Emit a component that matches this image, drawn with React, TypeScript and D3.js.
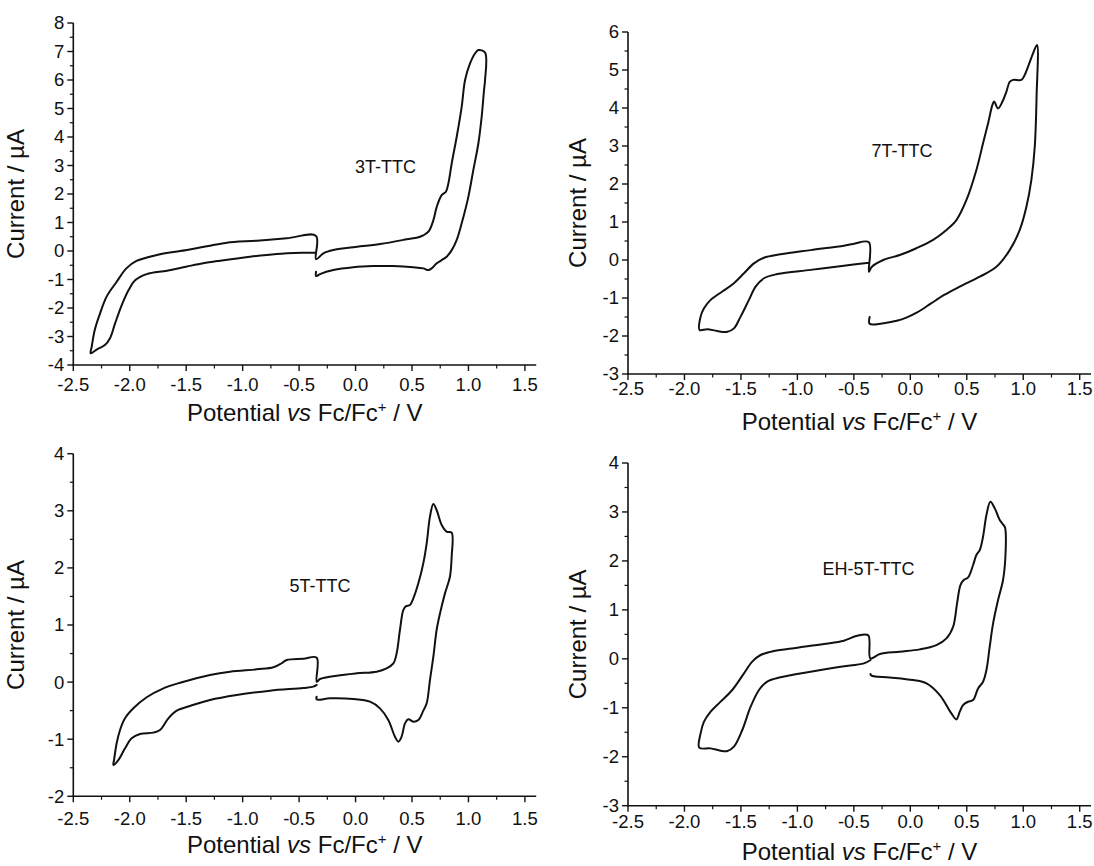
import React from "react";
import * as d3 from "d3";

// ---------- DATA (potential E in V vs Fc/Fc+, current I in µA) ----------
const xTicks = [-2.5, -2.0, -1.5, -1.0, -0.5, 0.0, 0.5, 1.0, 1.5];
const xDomain: [number, number] = [-2.5, 1.6];

const compoundLabels = ["3T-TTC", "7T-TTC", "5T-TTC", "EH-5T-TTC"];
const yDomains: [number, number][] = [[-4, 8], [-3, 6], [-2, 4], [-3, 4]];

const cv3T: [number, number][] = [
  [-0.35, -0.05], [-0.46, -0.06], [-0.7, -0.105], [-0.935, -0.2], [-1.2, -0.34], [-1.35, -0.43],
  [-1.5, -0.55], [-1.67, -0.69], [-1.85, -0.81], [-1.95, -1.02], [-2.01, -1.37], [-2.07, -1.89],
  [-2.13, -2.54], [-2.175, -3.06], [-2.22, -3.3], [-2.29, -3.45], [-2.346, -3.59],
  [-2.337, -3.36], [-2.31, -2.77], [-2.263, -2.19], [-2.205, -1.6], [-2.116, -1.08], [-2.03, -0.61],
  [-1.94, -0.35], [-1.76, -0.14], [-1.554, 0.0], [-1.41, 0.093], [-1.26, 0.21], [-1.14, 0.29],
  [-0.876, 0.363], [-0.61, 0.445], [-0.35, 0.53],
  [-0.35, -0.29],
  [-0.285, -0.08], [-0.197, 0.035], [-0.02, 0.13], [0.217, 0.245], [0.453, 0.41], [0.571, 0.5],
  [0.645, 0.68], [0.69, 1.09], [0.719, 1.55], [0.763, 1.96], [0.8, 2.08], [0.822, 2.37], [0.852, 3.08],
  [0.896, 4.01], [0.94, 5.06], [0.97, 6.0], [1.014, 6.58], [1.058, 6.93], [1.088, 7.05], [1.147, 6.96],
  [1.147, 6.0], [1.138, 5.65], [1.117, 4.71], [1.088, 3.78], [1.043, 2.84], [0.999, 1.9], [0.94, 0.97],
  [0.896, 0.39], [0.852, 0.03], [0.807, -0.2], [0.763, -0.32], [0.719, -0.43], [0.674, -0.61],
  [0.645, -0.67], [0.6, -0.61], [0.512, -0.57], [0.335, -0.53], [0.158, -0.53], [-0.02, -0.57],
  [-0.197, -0.67], [-0.315, -0.81], [-0.35, -0.88], [-0.35, -0.73],
];

const cv7T: [number, number][] = [
  [-0.367, -0.07], [-0.588, -0.15], [-0.883, -0.26], [-1.178, -0.37], [-1.296, -0.48], [-1.37, -0.7],
  [-1.429, -1.05], [-1.503, -1.49], [-1.562, -1.8], [-1.62, -1.89], [-1.71, -1.87], [-1.798, -1.82],
  [-1.866, -1.84],
  [-1.857, -1.49], [-1.827, -1.27], [-1.768, -1.05], [-1.665, -0.83], [-1.562, -0.61], [-1.473, -0.35],
  [-1.385, -0.09], [-1.296, 0.06], [-1.149, 0.15], [-0.883, 0.26], [-0.588, 0.377], [-0.506, 0.42],
  [-0.367, 0.47],
  [-0.367, -0.31],
  [-0.344, -0.19], [-0.24, 0.0], [-0.093, 0.13], [0.054, 0.31], [0.202, 0.53], [0.32, 0.79], [0.408, 1.05],
  [0.497, 1.58], [0.585, 2.37], [0.644, 3.07], [0.689, 3.6], [0.727, 4.08], [0.742, 4.17], [0.777, 3.99],
  [0.816, 4.17], [0.851, 4.43], [0.88, 4.69], [0.91, 4.74], [0.984, 4.74], [1.013, 4.87], [1.043, 5.09],
  [1.087, 5.44], [1.122, 5.66],
  [1.118, 4.3], [1.102, 2.98], [1.072, 2.11], [1.028, 1.4], [0.969, 0.79], [0.88, 0.26], [0.762, -0.18],
  [0.615, -0.44], [0.438, -0.7], [0.3, -0.92], [0.18, -1.15], [0.06, -1.38], [-0.03, -1.51],
  [-0.12, -1.6], [-0.25, -1.67], [-0.36, -1.68], [-0.36, -1.5],
];

const cv5T: [number, number][] = [
  [-0.344, -0.05], [-0.374, -0.08], [-0.462, -0.103], [-0.758, -0.15], [-1.053, -0.226], [-1.289, -0.313],
  [-1.467, -0.418], [-1.584, -0.5], [-1.658, -0.634], [-1.732, -0.838], [-1.791, -0.885], [-1.909, -0.908],
  [-1.983, -0.984], [-2.042, -1.16], [-2.1, -1.364], [-2.145, -1.45],
  [-2.139, -1.364], [-2.116, -1.07], [-2.086, -0.838], [-2.042, -0.634], [-1.968, -0.459], [-1.85, -0.266],
  [-1.702, -0.109], [-1.554, -0.01], [-1.289, 0.125], [-1.112, 0.183], [-0.875, 0.224], [-0.727, 0.259],
  [-0.654, 0.33], [-0.61, 0.388], [-0.462, 0.41], [-0.344, 0.428],
  [-0.344, 0.007],
  [-0.315, 0.054], [-0.167, 0.112], [0.01, 0.153], [0.187, 0.182], [0.275, 0.241], [0.335, 0.328],
  [0.364, 0.504], [0.393, 0.912], [0.423, 1.262], [0.447, 1.33], [0.482, 1.35], [0.512, 1.467],
  [0.556, 1.73], [0.6, 2.08], [0.63, 2.43], [0.659, 2.897], [0.689, 3.119], [0.718, 3.014], [0.763, 2.751],
  [0.807, 2.634], [0.851, 2.617],
  [0.851, 2.196], [0.836, 1.846], [0.792, 1.554], [0.748, 1.204], [0.718, 0.912], [0.689, 0.445],
  [0.659, 0.036], [0.63, -0.372], [0.6, -0.5], [0.556, -0.664], [0.512, -0.693], [0.467, -0.652],
  [0.438, -0.722], [0.408, -0.956], [0.379, -1.043], [0.349, -0.956], [0.29, -0.664], [0.216, -0.46],
  [0.128, -0.343], [-0.02, -0.296], [-0.227, -0.285], [-0.345, -0.302], [-0.345, -0.255],
];

const cvEH5T: [number, number][] = [
  [-0.352, -0.024], [-0.411, -0.092], [-0.618, -0.16], [-0.883, -0.262], [-1.149, -0.378], [-1.267, -0.467],
  [-1.34, -0.637], [-1.414, -0.978], [-1.488, -1.454], [-1.562, -1.795], [-1.62, -1.883], [-1.68, -1.876],
  [-1.768, -1.829], [-1.869, -1.815],
  [-1.857, -1.522], [-1.827, -1.284], [-1.768, -1.08], [-1.68, -0.875], [-1.577, -0.637], [-1.473, -0.297],
  [-1.4, -0.058], [-1.326, 0.078], [-1.208, 0.16], [-1.0, 0.228], [-0.765, 0.303], [-0.588, 0.371],
  [-0.47, 0.473], [-0.373, 0.48],
  [-0.353, 0.009],
  [-0.27, 0.098], [-0.093, 0.145], [0.084, 0.193], [0.231, 0.281], [0.32, 0.418], [0.379, 0.656],
  [0.414, 1.133], [0.444, 1.507], [0.473, 1.61], [0.512, 1.664], [0.556, 1.916], [0.585, 2.12],
  [0.615, 2.222], [0.644, 2.495], [0.674, 2.937], [0.709, 3.21], [0.748, 3.073], [0.792, 2.835],
  [0.836, 2.699], [0.842, 2.65],
  [0.842, 2.086], [0.821, 1.61], [0.777, 1.201], [0.733, 0.724], [0.703, 0.247], [0.674, -0.229],
  [0.644, -0.468], [0.6, -0.604], [0.556, -0.842], [0.512, -0.876], [0.467, -0.944], [0.438, -1.08],
  [0.408, -1.237], [0.364, -1.115], [0.261, -0.74], [0.143, -0.502], [0.025, -0.434], [-0.182, -0.379],
  [-0.344, -0.345], [-0.353, -0.31],
];

const curves = [cv3T, cv7T, cv5T, cvEH5T];

// ---------- LAYOUT ----------
type Layout = {
  x0: number; x1: number; yTop: number; yBot: number;
  yTitleX: number; tickBase: number; titleBase: number; labelX: number; labelY: number;
};
const layouts: Layout[] = [
  { x0: 73.3, x1: 536.2, yTop: 23, yBot: 365, yTitleX: 16, tickBase: 391, titleBase: 421, labelX: 355, labelY: 173 },
  { x0: 628, x1: 1091, yTop: 32, yBot: 374, yTitleX: 578, tickBase: 395, titleBase: 430, labelX: 871.5, labelY: 157 },
  { x0: 73.3, x1: 536.2, yTop: 453.7, yBot: 796.3, yTitleX: 16, tickBase: 825, titleBase: 853, labelX: 289.5, labelY: 592 },
  { x0: 628, x1: 1091, yTop: 463, yBot: 805.7, yTitleX: 578, tickBase: 828, titleBase: 860, labelX: 822.5, labelY: 575 },
];

const FONT = "'Liberation Sans', Arial, Helvetica, sans-serif";
const TICK_FS = 18.5;

function fmtX(v: number) {
  return v.toFixed(1);
}

function Panel({ idx }: { idx: number }) {
  const L = layouts[idx];
  const [lo, hi] = yDomains[idx];
  const x = d3.scaleLinear().domain(xDomain).range([L.x0, L.x1]);
  const y = d3.scaleLinear().domain([lo, hi]).range([L.yBot, L.yTop]);
  const line = d3
    .line<[number, number]>()
    .x((d) => x(d[0]))
    .y((d) => y(d[1]))
    .curve(d3.curveCatmullRom.alpha(0.5));

  const yMajor = d3.range(lo, hi + 0.001, 1);
  const yMinor = d3.range(lo + 0.5, hi, 1);
  const xMinor = d3.range(-2.25, 1.5, 0.5);
  const axisColor = "#111";

  return (
    <g>
      {/* axes */}
      <line x1={L.x0} x2={L.x0} y1={L.yTop} y2={L.yBot} stroke={axisColor} strokeWidth={1.6} />
      <line x1={L.x0 - 0.8} x2={L.x1} y1={L.yBot} y2={L.yBot} stroke={axisColor} strokeWidth={1.6} />
      {yMajor.map((t) => (
        <g key={"ym" + t}>
          <line x1={L.x0 - 6} x2={L.x0} y1={y(t)} y2={y(t)} stroke={axisColor} strokeWidth={1.4} />
          <text x={L.x0 - 9} y={y(t)} dy="0.35em" textAnchor="end" fontSize={TICK_FS} fontFamily={FONT} fill="#111">
            {t}
          </text>
        </g>
      ))}
      {yMinor.map((t) => (
        <line key={"yn" + t} x1={L.x0 - 3.5} x2={L.x0} y1={y(t)} y2={y(t)} stroke={axisColor} strokeWidth={1.2} />
      ))}
      {xTicks.map((t) => (
        <g key={"xm" + t}>
          <line x1={x(t)} x2={x(t)} y1={L.yBot} y2={L.yBot + 6} stroke={axisColor} strokeWidth={1.4} />
          <text x={x(t)} y={L.tickBase} textAnchor="middle" fontSize={TICK_FS} fontFamily={FONT} fill="#111">
            {fmtX(t)}
          </text>
        </g>
      ))}
      {xMinor.map((t) => (
        <line key={"xn" + t} x1={x(t)} x2={x(t)} y1={L.yBot} y2={L.yBot + 3.5} stroke={axisColor} strokeWidth={1.2} />
      ))}

      {/* axis titles */}
      <text
        transform={`translate(${L.yTitleX},${(L.yTop + L.yBot) / 2}) rotate(-90)`}
        dy="0.35em"
        textAnchor="middle"
        fontSize={24}
        fontFamily={FONT}
        fill="#111"
      >
        Current / µA
      </text>
      <text x={(L.x0 + L.x1) / 2} y={L.titleBase} textAnchor="middle" fontSize={24} fontFamily={FONT} fill="#111">
        Potential <tspan fontStyle="italic">vs</tspan> Fc/Fc
        <tspan dy={-9} fontSize={15}>+</tspan>
        <tspan dy={9}> / V</tspan>
      </text>

      {/* compound label */}
      <text x={L.labelX} y={L.labelY} fontSize={18} fontFamily={FONT} fill="#111">
        {compoundLabels[idx]}
      </text>

      {/* CV curve */}
      <path d={line(curves[idx]) || ""} fill="none" stroke="#111" strokeWidth={2} strokeLinejoin="round" strokeLinecap="round" />
    </g>
  );
}

export default function App() {
  return (
    <svg
      width={1094}
      height={866}
      viewBox="0 0 1094 866"
      style={{ position: "absolute", left: 0, top: 0, background: "#fff" }}
    >
      <rect x={0} y={0} width={1094} height={866} fill="#fff" />
      {[0, 1, 2, 3].map((i) => (
        <Panel key={i} idx={i} />
      ))}
    </svg>
  );
}
